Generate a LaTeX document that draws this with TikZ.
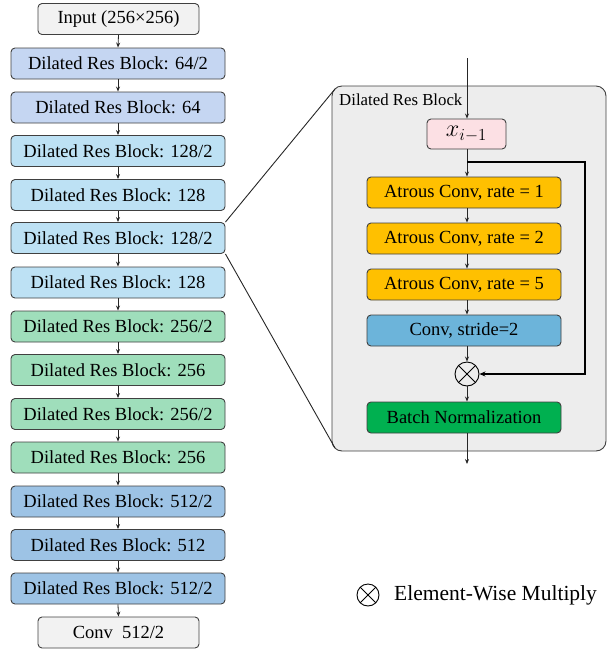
\documentclass[tikz,border=0pt]{standalone}
\usepackage{fontspec}
\setmainfont{Liberation Serif}
\usetikzlibrary{arrows.meta}
\definecolor{cgray}{HTML}{F2F2F2}
\definecolor{cA}{HTML}{C5D6F2}
\definecolor{cB}{HTML}{BDE1F4}
\definecolor{cC}{HTML}{9FDEBB}
\definecolor{cD}{HTML}{9DC3E5}
\definecolor{cpanel}{HTML}{EDEDED}
\definecolor{cpink}{HTML}{FCE0E4}
\definecolor{catrous}{HTML}{FFC000}
\definecolor{cconv}{HTML}{6CB4DA}
\definecolor{cbn}{HTML}{00B050}
\definecolor{cborder}{HTML}{404040}
\begin{document}
\begin{tikzpicture}[x=1pt,y=-1pt,
  txt/.style={font=\fontsize{18.5}{21}\selectfont},
  blk/.style={txt, draw=cborder, line width=0.9pt, rounded corners=4pt, minimum width=214pt, minimum height=31pt, inner sep=0pt},
  endbox/.style={blk, fill=cgray, minimum width=161pt},
  inbox/.style={blk, minimum width=194pt},
  arr/.style={draw=black!85, line width=0.8pt, -{Stealth[length=5pt,width=4pt]}},
  zoomline/.style={draw=black!85, line width=0.9pt},
  skip/.style={draw=black, line width=2pt, -{Stealth[length=6pt,width=5pt]}},
  otimesnode/.style={circle, draw=black, line width=0.9pt, minimum size=#1, inner sep=0pt,
    path picture={\draw[line width=0.9pt] (path picture bounding box.north west) ++(0.146*#1,-0.146*#1) -- ++(0.708*#1,-0.708*#1);
                  \draw[line width=0.9pt] (path picture bounding box.south west) ++(0.146*#1,0.146*#1) -- ++(0.708*#1,0.708*#1);}},
]
\useasboundingbox (0,0) rectangle (607,649);

% left column
\node[endbox] (in) at (118.5,19) {Input (256\texttimes256)};
\node[blk, fill=cA] (b1) at (118,63.5) {Dilated Res Block: 64/2};
\node[blk, fill=cA] (b2) at (118,107.5) {Dilated Res Block: 64};
\node[blk, fill=cB] (b3) at (118,151) {Dilated Res Block: 128/2};
\node[blk, fill=cB] (b4) at (118,195) {Dilated Res Block: 128};
\node[blk, fill=cB] (b5) at (118,238) {Dilated Res Block: 128/2};
\node[blk, fill=cB] (b6) at (118,282.5) {Dilated Res Block: 128};
\node[blk, fill=cC] (b7) at (118,326.5) {Dilated Res Block: 256/2};
\node[blk, fill=cC] (b8) at (118,370) {Dilated Res Block: 256};
\node[blk, fill=cC] (b9) at (118,414) {Dilated Res Block: 256/2};
\node[blk, fill=cC] (b10) at (118,457.5) {Dilated Res Block: 256};
\node[blk, fill=cD] (b11) at (118,501.5) {Dilated Res Block: 512/2};
\node[blk, fill=cD] (b12) at (118,545) {Dilated Res Block: 512};
\node[blk, fill=cD] (b13) at (118,588.5) {Dilated Res Block: 512/2};
\node[endbox] (out) at (118.5,632.5) {Conv\ \ 512/2};

\foreach \a/\b in {in/b1,b1/b2,b2/b3,b3/b4,b4/b5,b5/b6,b6/b7,b7/b8,b8/b9,b9/b10,b10/b11,b11/b12,b12/b13,b13/out}
  \draw[arr] (\a.south) -- (\b.north);

% panel
\node[draw=cborder, line width=0.9pt, fill=cpanel, rounded corners=10pt, minimum width=274pt, minimum height=365pt, inner sep=0pt] (panel) at (469,268.5) {};
\coordinate (ptl) at (335,89);
\coordinate (pbl) at (335,448);
\draw[zoomline] (b5.north east) -- (ptl);
\draw[zoomline] (b5.south east) -- (pbl);
\node[font=\fontsize{16.8}{19}\selectfont, anchor=west, inner sep=0pt] (lbl) at (339,100) {Dilated Res Block};

\node[blk, fill=cpink, minimum width=79pt, minimum height=30pt] (x) at (466.5,134) {\scalebox{1.4}{$x_{i-1}$}};
\node[inbox, fill=catrous] (a1) at (464,192.5) {Atrous Conv, rate = 1};
\node[inbox, fill=catrous] (a2) at (464,238.5) {Atrous Conv, rate = 2};
\node[inbox, fill=catrous] (a5) at (464,284.5) {Atrous Conv, rate = 5};
\node[inbox, fill=cconv] (cv) at (464,330.5) {Conv, stride=2};
\node[otimesnode=24pt] (mul) at (467,374) {};
\node[inbox, fill=cbn] (bn) at (464,417.5) {Batch Normalization};

\coordinate (top) at (467,58);
\coordinate (bot) at (467,464);
\coordinate (sp) at (467,162);
\coordinate (sc1) at (585,162);
\coordinate (sc2) at (585,374);

\draw[arr] (top) -- (top |- x.north);
\draw[arr] (x.south -| top) -- (a1.north -| top);
\draw[arr] (a1.south -| top) -- (a2.north -| top);
\draw[arr] (a2.south -| top) -- (a5.north -| top);
\draw[arr] (a5.south -| top) -- (cv.north -| top);
\draw[arr] (cv.south -| top) -- (mul.north);
\draw[arr] (mul.south) -- (bn.north -| top);
\draw[arr] (bn.south -| top) -- (bot);
\draw[skip] (sp) -- (sc1) -- (sc2) -- (mul.east);

% legend
\node[otimesnode=22pt] (leg) at (368,595) {};
\node[anchor=west, inner sep=0pt, font=\fontsize{21.5}{24}\selectfont] (legt) at (394,595) {Element-Wise Multiply};
\end{tikzpicture}
\end{document}
